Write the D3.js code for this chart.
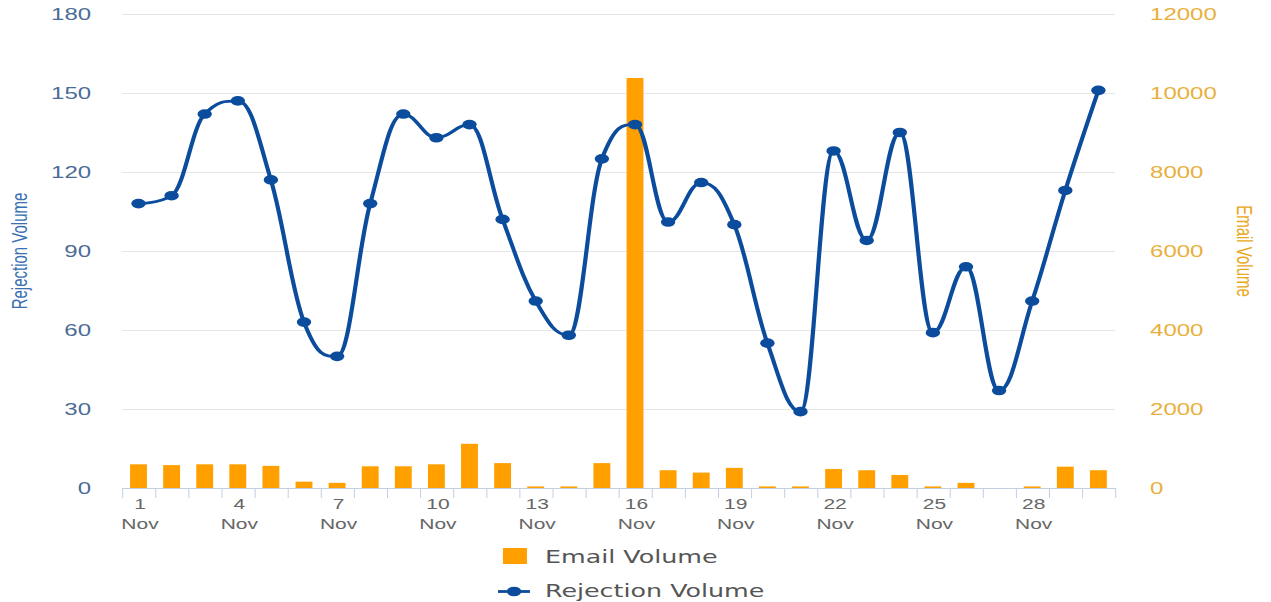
<!DOCTYPE html>
<html>
<head>
<meta charset="utf-8">
<script src="https://cdn.jsdelivr.net/npm/d3@7"></script>
<style>
  html, body { margin: 0; padding: 0; background: #ffffff; overflow: hidden; }
  svg { display: block; }
</style>
</head>
<body>
<svg id="chart"></svg>
<script>
// ---- data ----
const days = d3.range(1, 31);
const monthLabel = "Nov";
const labelledDays = [1, 4, 7, 10, 13, 16, 19, 22, 25, 28];
const rejectionVolume = [108, 111, 142, 147, 117, 63, 50, 108, 142, 133, 138, 102, 71, 58, 125,
                         138, 101, 116, 100, 55, 29, 128, 94, 135, 59, 84, 37, 71, 113, 151];
const emailVolume = [600, 580, 600, 600, 560, 160, 130, 550, 550, 600, 1120, 630, 40, 40, 630,
                     10380, 450, 390, 510, 40, 40, 480, 450, 330, 40, 130, 0, 40, 540, 450];
const rejectionTicks = [0, 30, 60, 90, 120, 150, 180];
const emailTicks = [0, 2000, 4000, 6000, 8000, 10000, 12000];
const seriesNames = { email: "Email Volume", rejection: "Rejection Volume" };

// ---- layout ----
const W = 1271, H = 602;
const SX = 1.5;                 // horizontal stretch applied to the whole drawing
const VW = W / SX;
const plot = { left: 81.3, right: 743.3, top: 14, bottom: 488 };

const colors = {
  bar: "#ffa000",
  line: "#0b4c9c",
  grid: "#e6e6e6",
  axis: "#c0d0e0",
  leftLabel: "#4a6c96",
  leftTitle: "#3a70b2",
  rightLabel: "#e8b03c",
  rightTitle: "#e8a820",
  xLabel: "#666666",
  legend: "#555555"
};

const svg = d3.select("#chart")
  .attr("width", W).attr("height", H)
  .attr("viewBox", `0 0 ${VW} ${H}`)
  .attr("preserveAspectRatio", "none");

// ---- scales ----
const xBand = d3.scaleBand()
  .domain(days)
  .range([plot.left, plot.right])
  .paddingInner(0.49)
  .paddingOuter(0.245);
const xEdge = d3.scaleLinear().domain([0, days.length]).range([plot.left, plot.right]);
const yLeft = d3.scaleLinear().domain([0, 180]).range([plot.bottom, plot.top]);
const yRight = d3.scaleLinear().domain([0, 12000]).range([plot.bottom, plot.top]);
const cx = d => xBand(d) + xBand.bandwidth() / 2;

// ---- gridlines ----
svg.append("g")
  .selectAll("line")
  .data(rejectionTicks)
  .join("line")
  .attr("x1", plot.left).attr("x2", plot.right)
  .attr("y1", d => Math.round(yLeft(d)) + 0.5)
  .attr("y2", d => Math.round(yLeft(d)) + 0.5)
  .attr("stroke", colors.grid)
  .attr("stroke-width", 1)
  .attr("vector-effect", "non-scaling-stroke");

// ---- left axis ----
const gLeft = svg.append("g")
  .attr("transform", `translate(60.7,0)`)
  .call(d3.axisLeft(yLeft).tickValues(rejectionTicks).tickSize(0).tickPadding(0));
gLeft.select(".domain").remove();
gLeft.selectAll("text")
  .attr("fill", colors.leftLabel)
  .style("font-family", "'Liberation Sans', Arial, sans-serif")
  .style("font-size", "16px");

// ---- right axis ----
const gRight = svg.append("g")
  .attr("transform", `translate(766.7,0)`)
  .call(d3.axisRight(yRight).tickValues(emailTicks).tickFormat(d3.format("d")).tickSize(0).tickPadding(0));
gRight.select(".domain").remove();
gRight.selectAll("text")
  .attr("fill", colors.rightLabel)
  .style("font-family", "'Liberation Sans', Arial, sans-serif")
  .style("font-size", "16px");

// ---- axis titles ----
svg.append("text")
  .attr("transform", `translate(12.7,251) rotate(-90)`)
  .attr("text-anchor", "middle")
  .attr("dominant-baseline", "central")
  .attr("fill", colors.leftTitle)
  .style("font-family", "'Liberation Sans', Arial, sans-serif")
  .style("font-size", "15px")
  .text(seriesNames.rejection);

svg.append("text")
  .attr("transform", `translate(830,251) rotate(90)`)
  .attr("text-anchor", "middle")
  .attr("dominant-baseline", "central")
  .attr("fill", colors.rightTitle)
  .style("font-family", "'Liberation Sans', Arial, sans-serif")
  .style("font-size", "15px")
  .text(seriesNames.email);

// ---- bars (email volume, right axis) ----
svg.append("g")
  .selectAll("rect")
  .data(days)
  .join("rect")
  .attr("x", d => xBand(d))
  .attr("width", xBand.bandwidth())
  .attr("y", (d, i) => yRight(emailVolume[i]))
  .attr("height", (d, i) => plot.bottom - yRight(emailVolume[i]))
  .attr("fill", colors.bar);

// ---- x axis ----
const gX = svg.append("g")
  .attr("transform", `translate(0,${plot.bottom})`)
  .call(d3.axisBottom(xEdge)
    .tickValues(d3.range(days.length + 1))
    .tickSize(10)
    .tickSizeOuter(0)
    .tickFormat(() => ""));
gX.select(".domain").attr("stroke", colors.axis).attr("vector-effect", "non-scaling-stroke");
gX.selectAll(".tick line").attr("stroke", colors.axis).attr("vector-effect", "non-scaling-stroke");

const xLabels = svg.append("g")
  .selectAll("text")
  .data(labelledDays)
  .join("text")
  .attr("text-anchor", "middle")
  .attr("fill", colors.xLabel)
  .style("font-family", "'Liberation Sans', Arial, sans-serif")
  .style("font-size", "14px");
xLabels.append("tspan").attr("x", d => cx(d) + 1).attr("y", 509).text(d => d);
xLabels.append("tspan").attr("x", d => cx(d) + 1).attr("y", 529).text(monthLabel);

// ---- spline (rejection volume, left axis) ----
function splinePath(pts) {
  const smoothing = 1.5, denom = smoothing + 1;
  const p = d3.path();
  const rightCont = [];
  pts.forEach(([x, y], i) => {
    let lcx, lcy;
    if (i > 0 && i < pts.length - 1) {
      const [lx, ly] = pts[i - 1];
      const [nx, ny] = pts[i + 1];
      lcx = (smoothing * x + lx) / denom;
      lcy = (smoothing * y + ly) / denom;
      const rcx = (smoothing * x + nx) / denom;
      let rcy = (smoothing * y + ny) / denom;
      const corr = (rcy - lcy) * (rcx - x) / (rcx - lcx) + y - rcy;
      lcy += corr; rcy += corr;
      if (lcy > ly && lcy > y) { lcy = Math.max(ly, y); rcy = 2 * y - lcy; }
      else if (lcy < ly && lcy < y) { lcy = Math.min(ly, y); rcy = 2 * y - lcy; }
      if (rcy > ny && rcy > y) { rcy = Math.max(ny, y); lcy = 2 * y - rcy; }
      else if (rcy < ny && rcy < y) { rcy = Math.min(ny, y); lcy = 2 * y - rcy; }
      rightCont[i] = [rcx, rcy];
    }
    if (i === 0) {
      p.moveTo(x, y);
    } else {
      const a = rightCont[i - 1] || pts[i - 1];
      const b = lcx !== undefined ? [lcx, lcy] : [x, y];
      p.bezierCurveTo(a[0], a[1], b[0], b[1], x, y);
    }
  });
  return p.toString();
}

const linePts = days.map((d, i) => [cx(d), yLeft(rejectionVolume[i])]);

svg.append("path")
  .attr("d", splinePath(linePts))
  .attr("fill", "none")
  .attr("stroke", colors.line)
  .attr("stroke-width", 2.8)
  .attr("stroke-linejoin", "round")
  .attr("stroke-linecap", "round");

svg.append("g")
  .selectAll("circle")
  .data(days)
  .join("circle")
  .attr("cx", d => cx(d))
  .attr("cy", (d, i) => yLeft(rejectionVolume[i]))
  .attr("r", 4.8)
  .attr("fill", colors.line);

// ---- legend ----
const legend = svg.append("g");
legend.append("rect")
  .attr("x", 335.3).attr("y", 548).attr("width", 16).attr("height", 16)
  .attr("fill", colors.bar);
legend.append("text")
  .attr("x", 363.3).attr("y", 563.5)
  .attr("fill", colors.legend)
  .style("font-family", "'DejaVu Sans', sans-serif")
  .style("font-size", "16.9px")
  .text(seriesNames.email);

legend.append("line")
  .attr("x1", 332).attr("x2", 353.3).attr("y1", 591.5).attr("y2", 591.5)
  .attr("stroke", colors.line).attr("stroke-width", 2.8);
legend.append("circle")
  .attr("cx", 342.7).attr("cy", 591.5).attr("r", 4.8)
  .attr("fill", colors.line);
legend.append("text")
  .attr("x", 363.3).attr("y", 597.5)
  .attr("fill", colors.legend)
  .style("font-family", "'DejaVu Sans', sans-serif")
  .style("font-size", "16.9px")
  .text(seriesNames.rejection);
</script>
</body>
</html>
